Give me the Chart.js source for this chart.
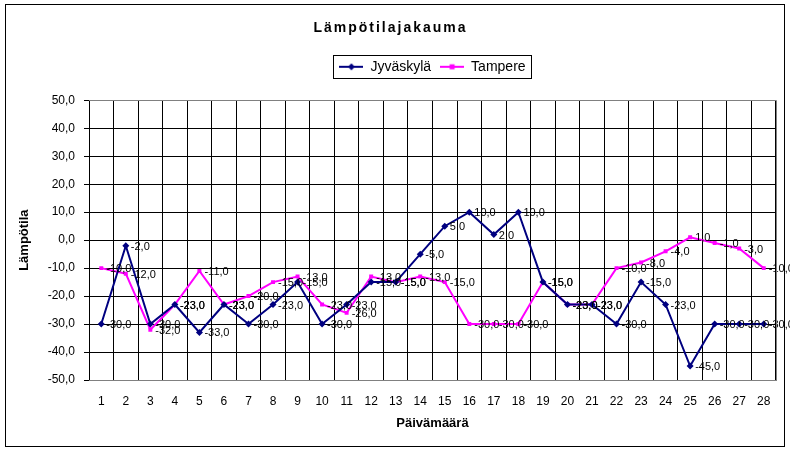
<!DOCTYPE html>
<html>
<head>
<meta charset="utf-8">
<script src="https://cdn.jsdelivr.net/npm/chart.js@4"></script>
<style>
  html, body { margin: 0; padding: 0; background: #fff; }
  #wrap { width: 790px; height: 451px; }
</style>
</head>
<body>
<div id="wrap"><canvas id="chart"></canvas></div>
<script>
// Data
const days = ['1','2','3','4','5','6','7','8','9','10','11','12','13','14',
  '15','16','17','18','19','20','21','22','23','24','25','26','27','28'];
const jyvaskyla = [-30, -2, -30, -23, -33, -23, -30, -23, -15, -30, -23, -15, -15, -5,
  5, 10, 2, 10, -15, -23, -23, -30, -15, -23, -45, -30, -30, -30];
const tampere = [-10, -12, -32, -23, -11, -23, -20, -15, -13, -23, -26, -13, -15, -13,
  -15, -30, -30, -30, -15, -23, -23, -10, -8, -4, 1, -1, -3, -10];
const yMin = -50;
const yMax = 50;
const yStep = 10;

const FONT = 'Liberation Sans, Arial, sans-serif';
const NAVY = '#000080';
const MAGENTA = '#ff00ff';

function fmt(v) {
  return v.toFixed(1).replace('.', ',');
}

// Small line-with-marker picture for the legend
function legendSymbol(color, rot) {
  const c = document.createElement('canvas');
  c.width = 24;
  c.height = 8;
  const g = c.getContext('2d');
  g.strokeStyle = color;
  g.lineWidth = 2;
  g.beginPath();
  g.moveTo(0, 4);
  g.lineTo(24, 4);
  g.stroke();
  g.fillStyle = color;
  g.save();
  g.translate(12, 4);
  if (rot) g.rotate(Math.PI / 4);
  g.fillRect(-2.5, -2.5, 5, 5);
  g.restore();
  return c;
}

// Outer frame, grey plot edges, legend box, point labels
const decorations = {
  id: 'decorations',
  afterInit(chart) {
    // wider spacing on the title, like the original
    const tb = chart.titleBlock;
    if (tb) {
      const draw = tb.draw.bind(tb);
      tb.draw = function() {
        chart.ctx.save();
        chart.ctx.letterSpacing = '2px';
        draw();
        chart.ctx.restore();
      };
    }
  },
  beforeDraw(chart) {
    const ctx = chart.ctx;
    ctx.save();
    ctx.fillStyle = '#fff';
    ctx.fillRect(0, 0, chart.width, chart.height);
    ctx.restore();
  },
  afterDatasetsDraw(chart) {
    const ctx = chart.ctx;
    ctx.save();
    ctx.font = '11px ' + FONT;
    ctx.fillStyle = '#000';
    ctx.textBaseline = 'middle';
    ctx.textAlign = 'left';
    chart.data.datasets.forEach((ds, i) => {
      chart.getDatasetMeta(i).data.forEach((pt, j) => {
        ctx.fillText(fmt(ds.data[j]), pt.x + 5, pt.y + 1);
      });
    });
    ctx.restore();
  },
  afterDraw(chart) {
    const ctx = chart.ctx;
    const a = chart.chartArea;
    ctx.save();
    ctx.lineWidth = 1;
    ctx.strokeStyle = '#808080';
    ctx.beginPath();
    ctx.moveTo(a.left, Math.round(a.top) + 0.5);
    ctx.lineTo(Math.round(a.right) + 0.5, Math.round(a.top) + 0.5);
    ctx.lineTo(Math.round(a.right) + 0.5, Math.round(a.bottom) + 0.5);
    ctx.lineTo(a.left, Math.round(a.bottom) + 0.5);
    ctx.stroke();
    ctx.strokeStyle = '#000';
    ctx.strokeRect(5.5, 4.5, 779, 442);
    const boxes = chart.legend.legendHitBoxes;
    if (boxes && boxes.length) {
      const first = boxes[0];
      const last = boxes[boxes.length - 1];
      const x0 = Math.round(first.left) - 5.5;
      const x1 = Math.round(last.left + last.width) + 5.5;
      const y0 = Math.round(first.top) - 4.5;
      const y1 = Math.round(first.top + first.height) + 4.5;
      ctx.strokeRect(x0, y0, x1 - x0, y1 - y0);
    }
    ctx.restore();
  }
};

new Chart(document.getElementById('chart'), {
  type: 'line',
  data: {
    labels: days,
    datasets: [{
      label: 'Jyväskylä',
      data: jyvaskyla,
      borderColor: NAVY,
      backgroundColor: NAVY,
      borderWidth: 2,
      pointStyle: 'rectRot',
      pointRadius: 3.5,
      pointBorderWidth: 0,
      tension: 0
    }, {
      label: 'Tampere',
      data: tampere,
      borderColor: MAGENTA,
      backgroundColor: MAGENTA,
      borderWidth: 2,
      pointStyle: 'rect',
      pointRadius: 2.8,
      pointBorderWidth: 0,
      tension: 0
    }]
  },
  options: {
    responsive: true,
    maintainAspectRatio: false,
    animation: false,
    devicePixelRatio: 1,
    layout: {
      padding: { top: 5, left: 5, right: 14, bottom: 5 }
    },
    plugins: {
      title: {
        display: true,
        text: 'Lämpötilajakauma',
        color: '#000',
        font: { size: 14, weight: 'bold', family: FONT },
        padding: { top: 15, bottom: 14 }
      },
      subtitle: {
        display: true,
        text: '',
        weight: 500,
        font: { size: 10, family: FONT },
        padding: { top: 4.5, bottom: 0 }
      },
      legend: {
        display: true,
        position: 'top',
        fullSize: false,
        labels: {
          color: '#000',
          font: { size: 14, family: FONT },
          usePointStyle: true,
          pointStyleWidth: 24,
          padding: 9,
          generateLabels(chart) {
            const items = Chart.defaults.plugins.legend.labels.generateLabels(chart);
            items.forEach((it, i) => {
              it.pointStyle = legendSymbol(i === 0 ? NAVY : MAGENTA, i === 0);
            });
            return items;
          }
        }
      },
      tooltip: { enabled: false }
    },
    scales: {
      x: {
        offset: true,
        afterFit(scale) { scale.height = 66; },
        ticks: {
          color: '#000',
          font: { size: 12, family: FONT },
          padding: 14,
          maxRotation: 0,
          autoSkip: false
        },
        grid: {
          color: '#000',
          offset: true,
          tickLength: 0,
          lineWidth: 1
        },
        border: { color: '#808080' },
        title: {
          display: true,
          text: 'Päivämäärä',
          color: '#000',
          font: { size: 13, weight: 'bold', family: FONT },
          padding: { top: 0, bottom: 15 }
        }
      },
      y: {
        min: yMin,
        max: yMax,
        afterFit(scale) { scale.width = 84; },
        ticks: {
          stepSize: yStep,
          color: '#000',
          font: { size: 12, family: FONT },
          padding: 9,
          callback: function(value) { return fmt(value); }
        },
        grid: {
          color: '#000',
          tickLength: 5,
          lineWidth: 1
        },
        border: { color: '#000' },
        title: {
          display: true,
          text: 'Lämpötila',
          color: '#000',
          font: { size: 13, weight: 'bold', family: FONT },
          padding: { top: 12, bottom: 0 }
        }
      }
    }
  },
  plugins: [decorations]
});
</script>
</body>
</html>
